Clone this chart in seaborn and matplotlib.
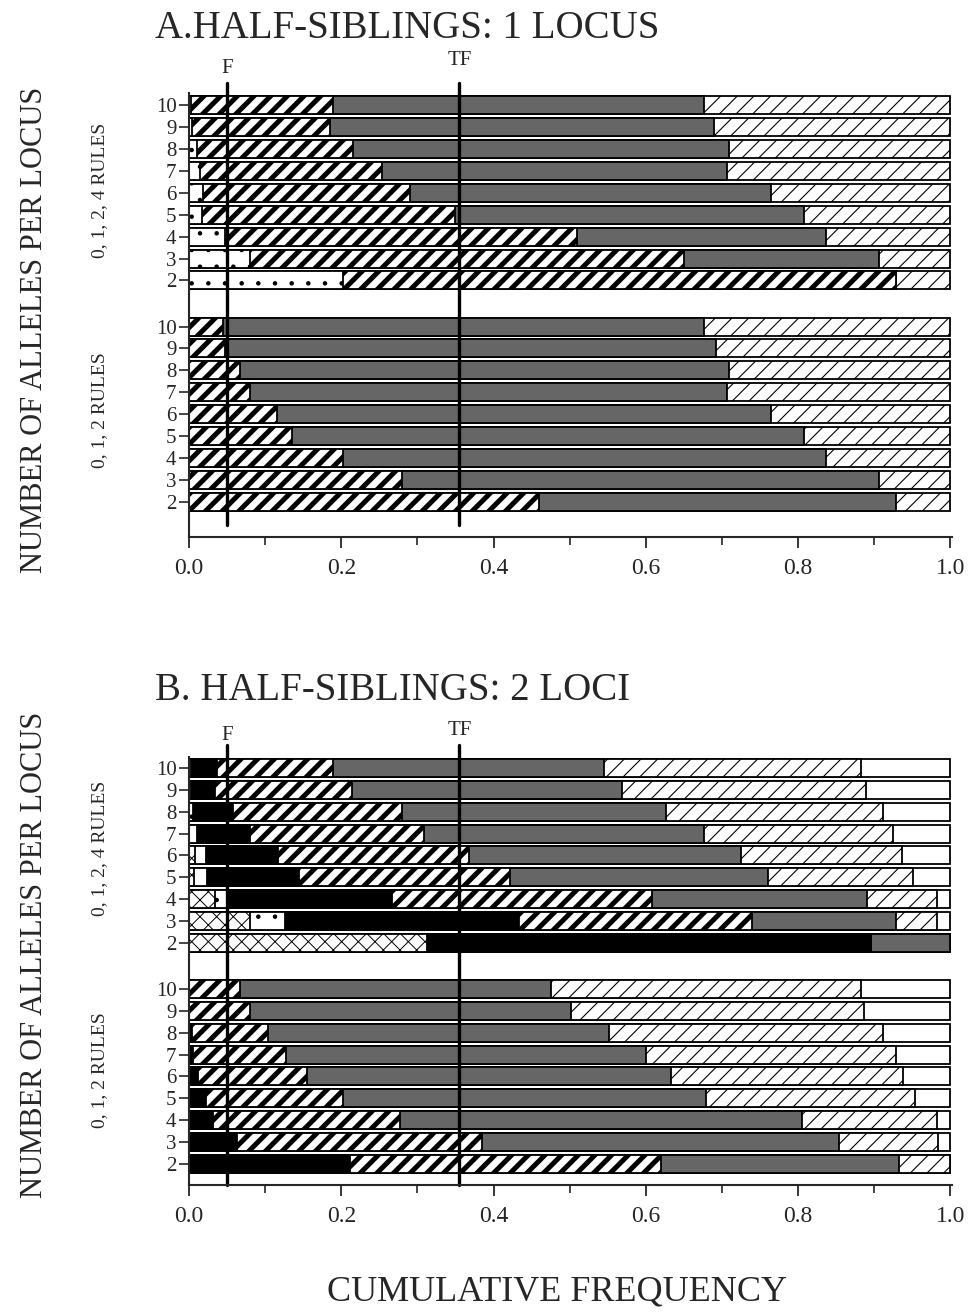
import numpy as np
import pandas as pd
import seaborn as sns
import matplotlib as mpl
import matplotlib.pyplot as plt

# rows read top -> bottom inside each group
alleles = [10, 9, 8, 7, 6, 5, 4, 3, 2]
categories = ['xx', 'light', 'black', 'thick', 'gray', 'thin', 'white']

# cumulative right edge of every segment
# A. half-siblings, 1 locus -- "0, 1, 2, 4 rules"
a_top_light = [0.003, 0.004, 0.010, 0.014, 0.018, 0.017, 0.047, 0.080, 0.202]
a_top_thick = [0.189, 0.185, 0.215, 0.253, 0.290, 0.349, 0.509, 0.650, 0.929]
a_top_gray = [0.676, 0.689, 0.709, 0.706, 0.764, 0.807, 0.837, 0.906, 0.929]
a_top_thin = [1.0] * 9
# A -- "0, 1, 2 rules"
a_bot_thick = [0.045, 0.047, 0.067, 0.080, 0.115, 0.135, 0.202, 0.280, 0.460]
a_bot_gray = [0.676, 0.692, 0.709, 0.706, 0.764, 0.807, 0.837, 0.906, 0.929]
a_bot_thin = [1.0] * 9

# B. half-siblings, 2 loci -- "0, 1, 2, 4 rules"
b_top_xx = [0.0, 0.0, 0.0, 0.0, 0.008, 0.006, 0.034, 0.080, 0.312]
b_top_light = [0.003, 0.003, 0.005, 0.010, 0.022, 0.024, 0.051, 0.126, 0.312]
b_top_black = [0.037, 0.034, 0.058, 0.080, 0.117, 0.145, 0.266, 0.434, 0.896]
b_top_thick = [0.189, 0.214, 0.280, 0.309, 0.368, 0.421, 0.608, 0.739, 0.896]
b_top_gray = [0.545, 0.569, 0.626, 0.676, 0.725, 0.761, 0.890, 0.929, 1.0]
b_top_thin = [0.882, 0.889, 0.912, 0.925, 0.936, 0.951, 0.982, 0.982, 1.0]
b_top_white = [1.0] * 9
# B -- "0, 1, 2 rules"
b_bot_black = [0.0, 0.0, 0.004, 0.005, 0.012, 0.022, 0.031, 0.063, 0.211]
b_bot_thick = [0.067, 0.080, 0.104, 0.128, 0.155, 0.202, 0.277, 0.385, 0.620]
b_bot_gray = [0.476, 0.502, 0.552, 0.600, 0.633, 0.679, 0.805, 0.853, 0.932]
b_bot_thin = [0.882, 0.886, 0.912, 0.928, 0.938, 0.954, 0.982, 0.984, 1.0]
b_bot_white = [1.0] * 9

F_pos = 0.05
TF_pos = 0.355

style = {
    'xx': dict(face='white', hatch='xx', hlw=0.7),
    'light': dict(face='white', hatch='.', hlw=0.8),
    'black': dict(face='black', hatch=None, hlw=1.0),
    'thick': dict(face='white', hatch='//', hlw=3.6),
    'gray': dict(face='#666666', hatch=None, hlw=1.0),
    'thin': dict(face='white', hatch='//', hlw=0.8),
    'white': dict(face='white', hatch=None, hlw=1.0),
}

sns.set_style('ticks')
plt.rcParams['font.family'] = ['Liberation Serif', 'DejaVu Serif']

W, H = 971, 1315
fig = plt.figure(figsize=(W / 100, H / 100), dpi=100)


def px(x, y):
    return x / W, 1 - y / H


def draw_panel(ax, top, bottom, gap, ylim):
    frames = []
    for d, off in [(top, 0), (bottom, 8 + gap)]:
        for cat, vals in d.items():
            frames.append(pd.DataFrame({'pos': np.arange(9) + off, 'cat': cat, 'cum': vals}))
    df = pd.concat(frames, ignore_index=True)
    # stacked look: draw cumulative bars from the widest to the narrowest
    for cat in reversed(categories):
        sub = df[df['cat'] == cat]
        if sub.empty:
            continue
        st = style[cat]
        n0 = len(ax.patches)
        with mpl.rc_context({'hatch.linewidth': st['hlw']}):
            sns.barplot(data=sub, x='cum', y='pos', orient='h', native_scale=True,
                        width=0.82, color=st['face'], saturation=1, hatch=st['hatch'],
                        edgecolor='black', linewidth=1.3, errorbar=None, ax=ax)
        for p in ax.patches[n0:]:
            p.set_facecolor(st['face'])
            if hasattr(p, 'set_hatch_linewidth'):
                p.set_hatch_linewidth(st['hlw'])
    pos = list(np.arange(9)) + list(np.arange(9) + 8 + gap)
    ax.set_yticks(pos)
    ax.set_yticklabels([str(a) for a in alleles] * 2)
    ax.set_ylim(*ylim)
    ax.set_xlim(0, 1.002)
    ax.set_xticks(np.arange(0, 1.01, 0.2))
    ax.set_xticklabels([f'{v:.1f}' for v in np.arange(0, 1.01, 0.2)])
    ax.set_xticks(np.arange(0.1, 1.0, 0.2), minor=True)
    ax.set_xlabel('')
    ax.set_ylabel('')
    sns.despine(ax=ax)
    for s in ['left', 'bottom']:
        ax.spines[s].set_linewidth(1.5)
    ax.tick_params(axis='y', direction='out', length=7, width=1.2, labelsize=15, pad=2)
    ax.tick_params(axis='x', which='major', direction='out', length=8, width=1.3,
                   labelsize=17, pad=7)
    ax.tick_params(axis='x', which='minor', direction='out', length=6, width=1.2)


# panel A
axA = fig.add_axes([189 / W, 1 - 537 / H, 763 / W, 444 / H])
draw_panel(axA,
           {'light': a_top_light, 'thick': a_top_thick, 'gray': a_top_gray, 'thin': a_top_thin},
           {'thick': a_bot_thick, 'gray': a_bot_gray, 'thin': a_bot_thin},
           2.1, (19.7, -0.55))
axA.axvline(F_pos, 0.027, 1.0225, color='black', lw=2.4, clip_on=False)
axA.axvline(TF_pos, 0.027, 1.0225, color='black', lw=2.4, clip_on=False)
axA.text(F_pos, 1.055, 'F', transform=axA.get_xaxis_transform(), ha='center', va='center', fontsize=15)
axA.text(TF_pos, 1.074, 'TF', transform=axA.get_xaxis_transform(), ha='center', va='center', fontsize=15)

# panel B
axB = fig.add_axes([189 / W, 1 - 1185 / H, 763 / W, 428 / H])
draw_panel(axB,
           {'xx': b_top_xx, 'light': b_top_light, 'black': b_top_black, 'thick': b_top_thick,
            'gray': b_top_gray, 'thin': b_top_thin, 'white': b_top_white},
           {'black': b_bot_black, 'thick': b_bot_thick, 'gray': b_bot_gray,
            'thin': b_bot_thin, 'white': b_bot_white},
           2.1, (19.06, -0.5))
axB.axvline(F_pos, 0, 1.028, color='black', lw=2.4, clip_on=False)
axB.axvline(TF_pos, 0, 1.028, color='black', lw=2.4, clip_on=False)
axB.text(F_pos, 1.051, 'F', transform=axB.get_xaxis_transform(), ha='center', va='center', fontsize=15)
axB.text(TF_pos, 1.061, 'TF', transform=axB.get_xaxis_transform(), ha='center', va='center', fontsize=15)

# titles and labels
fig.text(*px(155, 28), 'A.HALF-SIBLINGS: 1 LOCUS', ha='left', va='center', fontsize=28)
fig.text(*px(155, 690), 'B. HALF-SIBLINGS: 2 LOCI', ha='left', va='center', fontsize=28)
fig.text(*px(557, 1292), 'CUMULATIVE FREQUENCY', ha='center', va='center', fontsize=26)
for yc in (330, 955):
    fig.text(*px(35, yc), 'NUMBER OF ALLELES PER LOCUS', ha='center', va='center',
             rotation=90, fontsize=22)
for yc, lab in [(190, '0, 1, 2, 4 RULES'), (410, '0, 1, 2 RULES'),
                (848, '0, 1, 2, 4 RULES'), (1070, '0, 1, 2 RULES')]:
    fig.text(*px(100, yc), lab, ha='center', va='center', rotation=90, fontsize=14)

fig.savefig('out.png', dpi=100)
